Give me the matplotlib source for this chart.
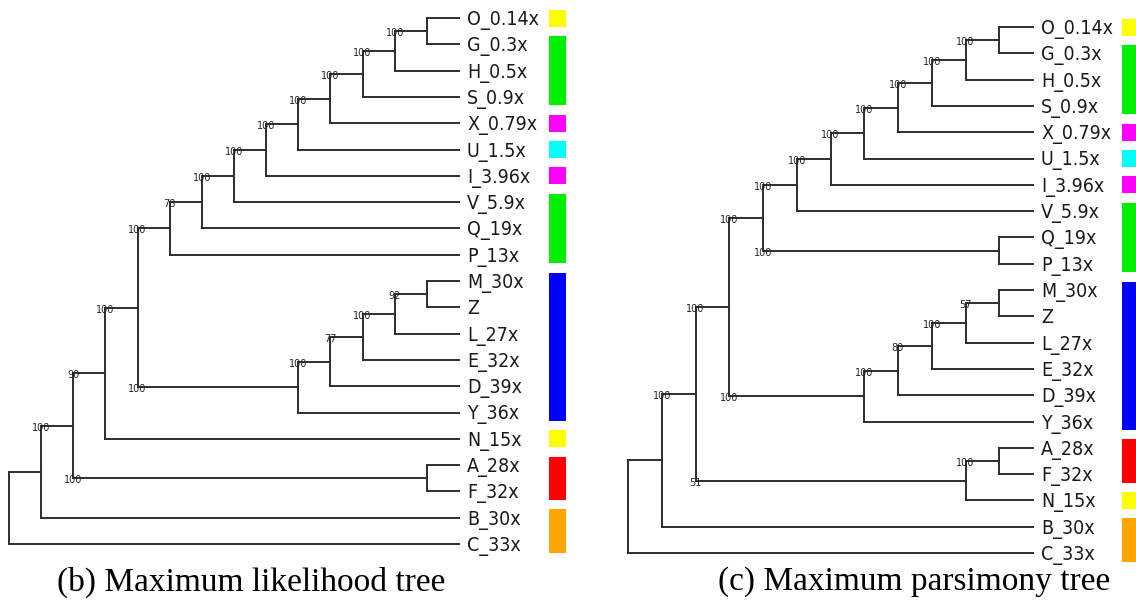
import matplotlib
matplotlib.use("Agg")
import matplotlib.pyplot as plt
from matplotlib.patches import Rectangle

# taxa and their sequencing coverage (Z has none)
taxa = ["O", "G", "H", "S", "X", "U", "I", "V", "Q", "P", "M", "Z",
        "L", "E", "D", "Y", "N", "A", "F", "B", "C"]
coverage = ["0.14x", "0.3x", "0.5x", "0.9x", "0.79x", "1.5x", "3.96x", "5.9x",
            "19x", "13x", "30x", "", "27x", "32x", "39x", "36x", "15x",
            "28x", "32x", "30x", "33x"]

# trees with bootstrap support on internal nodes
ml_tree = ("((((((((((((((O,G)100,H)100,S)100,X)100,U)100,I)100,V)100,Q)78,P)100,"
           "(((((M,Z)92,L)100,E)77,D)100,Y)100)100,N)90,(A,F)100)100,B),C);")
mp_tree = ("((((((((((((O,G)100,H)100,S)100,X)100,U)100,I)100,V)100,(Q,P)100)100,"
           "(((((M,Z)57,L)100,E)80,D)100,Y)100)100,((A,F)100,N)51)100,B),C);")

YELLOW, GREEN, MAGENTA, CYAN = "#ffff00", "#00ee00", "#ff00ff", "#00ffff"
BLUE, RED, ORANGE = "#0000ff", "#ff0000", "#ffa500"

# colour strips: first taxon, last taxon, colour
ml_groups = [("O", "O", YELLOW), ("G", "S", GREEN), ("X", "X", MAGENTA),
             ("U", "U", CYAN), ("I", "I", MAGENTA), ("V", "P", GREEN),
             ("M", "Y", BLUE), ("N", "N", YELLOW), ("A", "F", RED),
             ("B", "C", ORANGE)]
mp_groups = [("O", "O", YELLOW), ("G", "S", GREEN), ("X", "X", MAGENTA),
             ("U", "U", CYAN), ("I", "I", MAGENTA), ("V", "P", GREEN),
             ("M", "Y", BLUE), ("A", "F", RED), ("N", "N", YELLOW),
             ("B", "C", ORANGE)]

captions = ["(b) Maximum likelihood tree", "(c) Maximum parsimony tree"]

LINE = "#2e2e2e"
cov_of = dict(zip(taxa, coverage))


def parse(s):
    pos = 0

    def read_token():
        nonlocal pos
        start = pos
        while pos < len(s) and s[pos] not in "(),;":
            pos += 1
        return s[start:pos]

    def node():
        nonlocal pos
        if s[pos] == "(":
            pos += 1
            kids = [node()]
            while s[pos] == ",":
                pos += 1
                kids.append(node())
            pos += 1
            sup = read_token()
            return {"kids": kids, "support": sup}
        return {"name": read_token()}

    return node()


def height(n):
    if "kids" not in n:
        n["h"] = 0
    else:
        n["h"] = 1 + max(height(k) for k in n["kids"])
    return n["h"]


def layout(n, tip_x, step, top, row, counter):
    if "kids" not in n:
        n["y"] = top + counter[0] * row
        counter[0] += 1
    else:
        for k in n["kids"]:
            layout(k, tip_x, step, top, row, counter)
        n["y"] = (n["kids"][0]["y"] + n["kids"][-1]["y"]) / 2
    n["x"] = tip_x - n["h"] * step


def draw(ax, n, leaf_pos):
    if "kids" not in n:
        leaf_pos[n["name"]] = n["y"]
        return
    ax.plot([n["x"], n["x"]], [n["kids"][0]["y"], n["kids"][-1]["y"]],
            color=LINE, lw=1.4, solid_capstyle="projecting")
    for k in n["kids"]:
        ax.plot([n["x"], k["x"]], [k["y"], k["y"]], color=LINE, lw=1.4,
                solid_capstyle="projecting")
        if k.get("support"):
            ax.text(n["x"], k["y"] + 2, k["support"], fontsize=7,
                    family="DejaVu Sans", ha="center", va="center",
                    color="#222222")
        draw(ax, k, leaf_pos)


fig = plt.figure(figsize=(11.36, 6.05), dpi=100)
ax = fig.add_axes([0, 0, 1, 1])
ax.set_xlim(0, 1136)
ax.set_ylim(605, 0)
ax.axis("off")

panels = [
    dict(tree=ml_tree, groups=ml_groups, root_x=9, tip_x=459, top=18,
         label_x=467, bar_x=549, cap_x=251),
    dict(tree=mp_tree, groups=mp_groups, root_x=628, tip_x=1033, top=27,
         label_x=1041, bar_x=1122, cap_x=914),
]
row = 26.3

for p, cap in zip(panels, captions):
    root = parse(p["tree"])
    h = height(root)
    step = (p["tip_x"] - p["root_x"]) / h
    layout(root, p["tip_x"], step, p["top"], row, [0])
    leaf_pos = {}
    draw(ax, root, leaf_pos)

    for name, y in leaf_pos.items():
        lab = f"{name}_{cov_of[name]}" if cov_of[name] else name
        ax.text(p["label_x"], y + 7, lab, fontsize=14, family="DejaVu Sans",
                fontstretch="condensed", ha="left", va="baseline",
                color="#1a1a1a")

    for first, last, col in p["groups"]:
        y0 = leaf_pos[first] - 8.5
        y1 = leaf_pos[last] + 8.5
        ax.add_patch(Rectangle((p["bar_x"], y0), 17, y1 - y0, color=col, lw=0))

    ax.text(p["cap_x"], 582, cap, fontsize=24, family="Liberation Serif",
            ha="center", va="center", color="black")

fig.savefig("out.png", dpi=100)
